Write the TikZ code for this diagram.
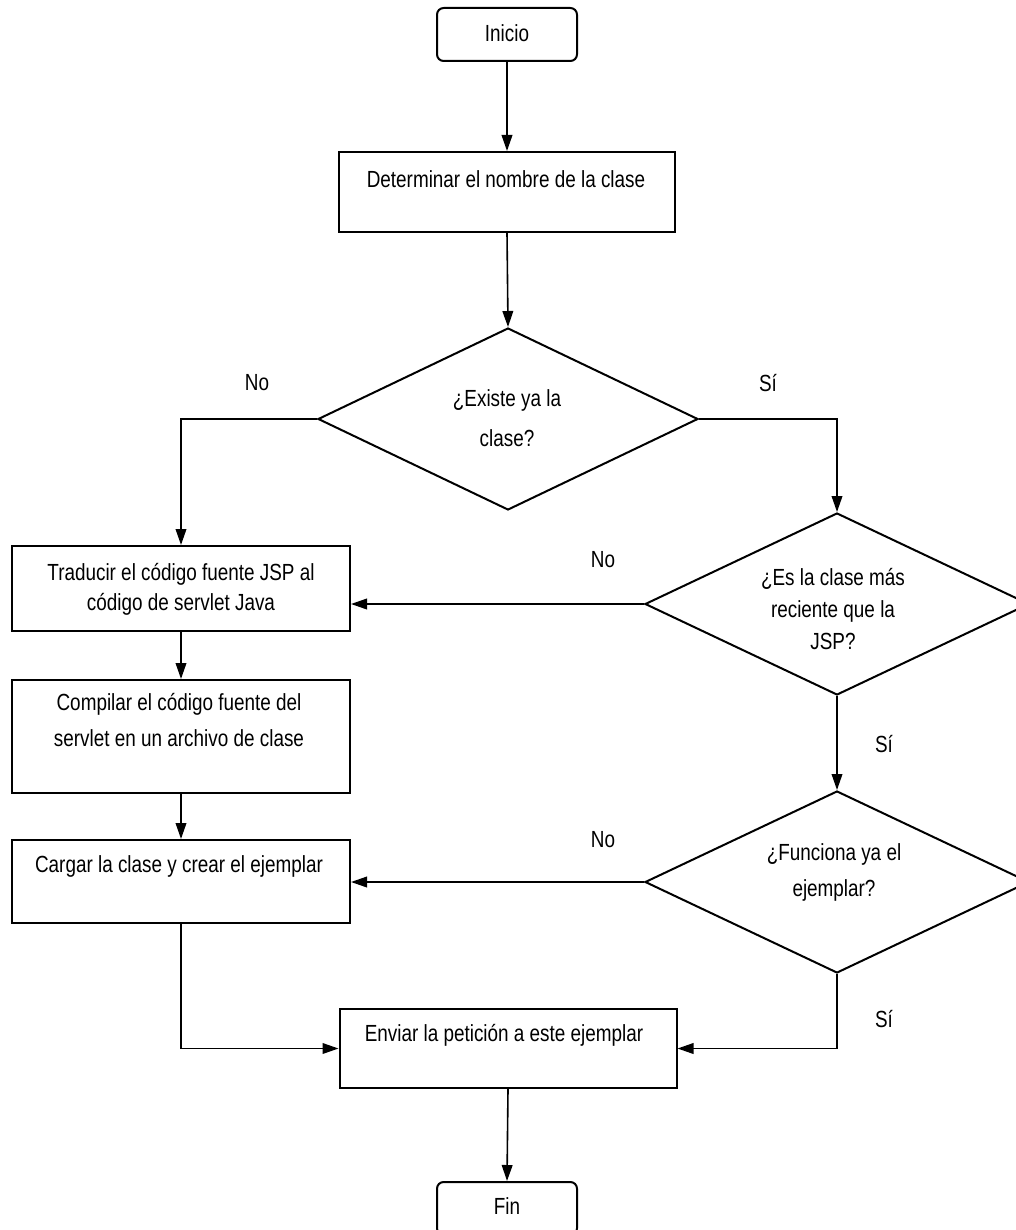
\documentclass[tikz,border=0pt]{standalone}
\usepackage{fontspec}
\setmainfont{Liberation Sans}[FakeStretch=0.81]
\usetikzlibrary{shapes.geometric,arrows.meta}
\begin{document}
\begin{tikzpicture}[x=0.75pt,y=-0.75pt,
  shp/.style={draw=black,line width=1.5pt,fill=white,inner sep=0pt},
  boxn/.style={shp,rectangle},
  term/.style={shp,rectangle,rounded corners=5pt},
  dec/.style={shp,diamond},
  txt/.style={align=center,inner sep=0pt,font=\fontsize{17.5pt}{25pt}\selectfont,execute at begin node=\strut,execute at end node=\strut},
  lbl/.style={inner sep=0pt,font=\fontsize{17.5pt}{25pt}\selectfont},
  conn/.style={line width=1.2pt,-{Triangle[length=12pt,width=8pt]}},
]
\fill[white] (0,0) rectangle (1016,1230);
\useasboundingbox (0,0) rectangle (1016,1230);

% shapes
\node[term,minimum width=105pt,minimum height=39.75pt] (ini) at (507,34.5) {};
\node[boxn,minimum width=252pt,minimum height=60pt] (det) at (507,192) {};
\node[dec,minimum width=285pt,minimum height=136.5pt] (d1) at (508,419) {};
\node[boxn,minimum width=253.5pt,minimum height=63.75pt] (trad) at (181,588.5) {};
\node[boxn,minimum width=253.5pt,minimum height=84.75pt] (comp) at (181,736.5) {};
\node[boxn,minimum width=253.5pt,minimum height=62.25pt] (carg) at (181,881.5) {};
\node[dec,minimum width=288pt,minimum height=136.5pt] (d2) at (837,604) {};
\node[dec,minimum width=288pt,minimum height=136.5pt] (d3) at (837,882) {};
\node[boxn,minimum width=252.75pt,minimum height=59.25pt] (env) at (508,1048.5) {};
\node[term,minimum width=105pt,minimum height=39.75pt] (fin) at (507,1208.5) {};

% texts
\node[txt] (iniT) at (507,35) {Inicio};
\node[txt] (detT) at (506,181) {Determinar el nombre de la clase};
\node[txt] (d1T) at (507,423) {¿Existe ya la\\[5pt]clase?};
\node[txt] (tradT) at (181,592) {Traducir el código fuente JSP al\\[-2pt]código de servlet Java};
\node[txt] (compT) at (179,725) {Compilar el código fuente del\\[2pt]servlet en un archivo de clase};
\node[txt] (cargT) at (179,866) {Cargar la clase y crear el ejemplar};
\node[txt] (d2T) at (833,614) {¿Es la clase más\\[-1pt]reciente que la\\[-1pt]JSP?};
\node[txt] (d3T) at (834,875) {¿Funciona ya el\\[2pt]ejemplar?};
\node[txt] (envT) at (504,1035) {Enviar la petición a este ejemplar};
\node[txt] (finT) at (507,1208) {Fin};

% labels
\node[lbl] (l1) at (257,383) {No};
\node[lbl] (l2) at (768,383) {Sí};
\node[lbl] (l3) at (603,560) {No};
\node[lbl] (l4) at (884,744) {Sí};
\node[lbl] (l5) at (603,840) {No};
\node[lbl] (l6) at (884,1019) {Sí};

% connectors
\draw[conn] (ini.south) -- (det.north);
\draw[conn] (det.south) -- (d1.north);
\draw[conn] (d1.west) -| (trad.north);
\draw[conn] (d1.east) -| (d2.north);
\draw[conn] (d2.west) -- (d2.west -| trad.east);
\draw[conn] (trad.south) -- (comp.north);
\draw[conn] (comp.south) -- (carg.north);
\draw[conn] (d2.south) -- (d3.north);
\draw[conn] (d3.west) -- (d3.west -| carg.east);
\draw[conn] (carg.south) |- (env.west);
\draw[conn] (d3.south) |- (env.east);
\draw[conn] (env.south) -- (fin.north);
\end{tikzpicture}
\end{document}
